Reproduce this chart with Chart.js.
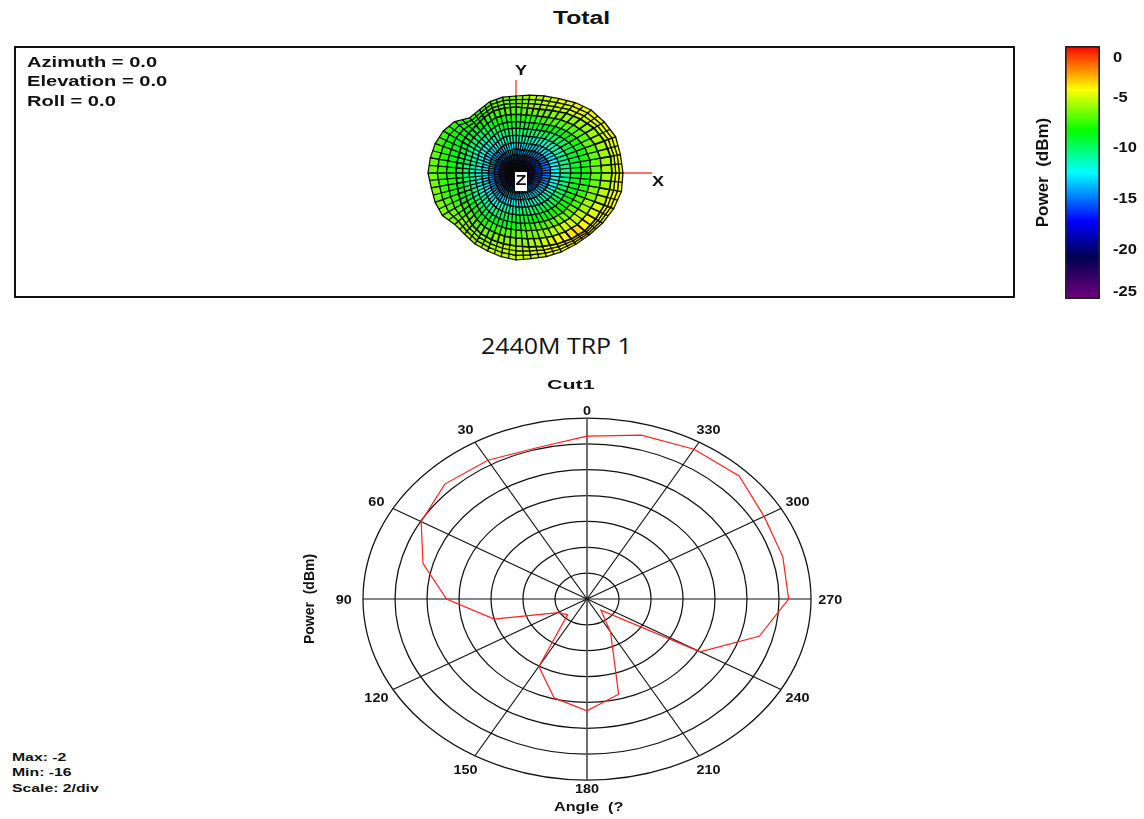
<!DOCTYPE html>
<html>
<head>
<meta charset="utf-8">
<title>2440M TRP 1</title>
<script src="https://cdn.jsdelivr.net/npm/chart.js@4"></script>
<style>
html, body { margin: 0; background: #fff; }
body { position: relative; width: 1144px; height: 819px; overflow: hidden; font-family: "Liberation Sans", sans-serif; color: #111; }
canvas { position: absolute; }
.txt { position: absolute; font-weight: bold; white-space: pre; transform-origin: left center; line-height: 1; }
</style>
</head>
<body>
<canvas id="surfaceChart" width="1001" height="252" style="left:14px;top:46px"></canvas>
<canvas id="colorbarChart" width="124" height="280" style="left:1020px;top:30px"></canvas>
<canvas id="polarChart" width="594" height="449" style="left:290px;top:370px"></canvas>

<div class="txt" style="left:553px;top:9px;font-size:18px;transform:scaleX(1.37)">Total</div>
<div class="txt" style="left:27px;top:54px;font-size:15px;transform:scaleX(1.34)">Azimuth = 0.0</div>
<div class="txt" style="left:27px;top:73px;font-size:15px;transform:scaleX(1.34)">Elevation = 0.0</div>
<div class="txt" style="left:27px;top:93px;font-size:15px;transform:scaleX(1.34)">Roll = 0.0</div>
<div class="txt" style="left:481px;top:335px;font-size:21.5px;font-weight:normal;font-family:'Open Sans';transform:scaleX(1.16)">2440M TRP 1</div>
<div class="txt" style="left:547px;top:378px;font-size:13px;transform:scaleX(1.65)">Cut1</div>
<div class="txt" style="left:554px;top:801px;font-size:12px;transform:scaleX(1.35)">Angle  (?</div>
<div class="txt" style="left:12px;top:752px;font-size:11.5px;transform:scaleX(1.37)">Max: -2</div>
<div class="txt" style="left:12px;top:767px;font-size:11.5px;transform:scaleX(1.37)">Min: -16</div>
<div class="txt" style="left:12px;top:783px;font-size:11.5px;transform:scaleX(1.37)">Scale: 2/div</div>

<script>
// polar cut, red trace (dBm per angle)
const cutAngles = [0, 15, 30, 45, 60, 75, 90, 105, 120, 135, 150, 165, 180, 195, 210, 225, 240, 255, 270, 285, 300, 315, 330, 345];
const cutPower = [-3.4, -3.89, -3.61, -3.43, -4.03, -5.39, -7.22, -9.99, -13.9, -14.29, -9.98, -8.08, -7.35, -8.37, -13.06, -14.77, -7.84, -4.86, -3.4, -3.33, -3.22, -2.55, -2.62, -2.88];
const cutMin = -16;
const cutMax = -2;
const cutRings = [-14, -12, -10, -8, -6, -4, -2];
const cutSpokes = [0, 30, 60, 90, 120, 150, 180, 210, 240, 270, 300, 330];

// colour bar
const barRange = [-25, 0];
const barTicks = [0, -5, -10, -15, -20, -25];
const barStops = [[0, '#ff0000'], [-4.3, '#ffff00'], [-8.4, '#00ff00'], [-12.5, '#00ffff'], [-17.3, '#0000ff'], [-20.9, '#000050'], [-25, '#700080']];

// 3D pattern seen from +Z: one entry per azimuth, every 10 deg counter-clockwise from +X
const frontRim = [96, 96, 94, 90, 84, 78, 72, 68, 66, 66, 66, 66, 64, 62, 62, 62, 60, 60, 60, 60, 61, 63, 65, 68, 70, 71, 72, 73, 75, 78, 82, 86, 90, 92, 94, 95];
const outerRim = [107, 106, 106, 102, 98, 92, 86, 82, 79, 77, 77, 76, 73, 72, 80, 84, 86, 87, 88, 86, 86, 85, 80, 80, 82, 83, 85, 87, 87, 89, 91, 93, 96, 100, 104, 107];
const ringFractions = [0, 0.07, 0.13, 0.19, 0.27, 0.36, 0.46, 0.57, 0.68, 0.78, 0.89, 1];
const rearFractions = [0.34, 0.67, 1];
const meshPower = [
  [-19, -18, -17, -16, -15, -12.5, -10.5, -9, -8, -6.8, -5.8, -5, -4.6, -4.6],
  [-19, -18, -17, -16, -15, -12.5, -10.5, -9, -8, -6.8, -5.8, -5, -4.7, -4.6],
  [-19, -18, -17, -16, -14.8, -12.8, -11, -9.5, -8, -6.8, -5.8, -5, -4.7, -4.5],
  [-19, -18, -17, -16, -14.6, -13, -11.2, -9.8, -8.2, -7, -5.9, -5, -4.8, -4.5],
  [-19, -18, -17, -16, -14.5, -13, -11.5, -10, -8.5, -7, -6, -5, -4.8, -4.6],
  [-19, -18, -17, -16, -14.5, -13, -11.5, -10, -8.6, -7.2, -6.2, -5.3, -5, -4.8],
  [-19, -18, -17, -15.8, -14.2, -13, -11.4, -10, -8.7, -7.5, -6.5, -5.6, -5.3, -5.2],
  [-19, -18, -16.5, -15.5, -14, -12.8, -11.2, -10, -8.8, -7.7, -6.8, -6, -5.8, -5.6],
  [-19, -18, -16.2, -15.2, -13.8, -12.6, -11, -10, -9, -8, -7, -6.5, -6.2, -6],
  [-19, -18, -16, -15, -13.5, -12.5, -11, -10, -9, -8, -7, -6.8, -6.6, -6.4],
  [-19, -18, -16, -15, -13.6, -12.6, -11.2, -10.2, -9.2, -8.2, -7.2, -7, -6.8, -6.6],
  [-19, -18, -16.2, -15.2, -14, -13, -11.8, -10.6, -9.6, -8.6, -7.6, -7.4, -7.2, -7],
  [-19, -18, -16.6, -15.6, -14.5, -13.5, -12.4, -11.2, -10.2, -9.4, -8.4, -8, -7.8, -7.5],
  [-19, -18, -17, -16, -15, -14, -13, -12, -11, -10, -9, -8.5, -8, -7.6],
  [-19, -18, -17, -16, -15, -14, -13, -12, -11, -10, -9, -8.6, -8, -7.6],
  [-19, -18, -17, -16, -15, -14, -13, -12, -11, -10, -9, -8.6, -8.2, -7.5],
  [-19, -18, -17, -16, -15, -14, -13, -12, -11, -10, -9, -8.4, -7.8, -7],
  [-19, -18, -17, -16, -15, -14, -13, -12, -11, -10, -9, -8.2, -7.6, -6.8],
  [-19, -18, -17, -16, -15, -14, -13, -12, -11, -10, -9, -8, -7.5, -6.5],
  [-19, -18, -17, -16, -15, -14, -13, -12, -11, -10, -8.8, -8, -7.4, -6.5],
  [-19, -18, -17, -16, -15, -14, -12.8, -11.8, -10.6, -9.4, -8.2, -7.5, -7, -6.4],
  [-19, -18, -17, -16, -15, -14, -12.6, -11.4, -10, -8.6, -7.6, -7, -6.6, -6.2],
  [-19, -18, -17, -16, -15, -14, -12.5, -11, -9.5, -8.2, -7, -6.4, -6.2, -6],
  [-19, -18, -17, -16, -14.8, -13.6, -12.2, -10.8, -9.4, -8, -6.9, -6.2, -6, -5.8],
  [-19, -18, -17, -15.8, -14.4, -13, -11.6, -10.2, -9, -7.6, -6.6, -6, -5.8, -5.6],
  [-19, -18, -16.8, -15.4, -14, -12.6, -11, -9.6, -8.4, -7.2, -6.3, -5.8, -5.6, -5.4],
  [-19, -18, -16.6, -15.2, -13.8, -12.2, -10.8, -9.2, -8.2, -7, -6.1, -5.6, -5.4, -5.3],
  [-19, -18, -16.5, -15, -13.5, -12, -10.5, -9, -8, -6.8, -6, -5.5, -5.3, -5.2],
  [-19, -18, -16.5, -15, -13.4, -11.8, -10.2, -8.8, -7.6, -6.4, -5.6, -5, -4.9, -5],
  [-19, -18, -16.5, -15, -13.3, -11.6, -10, -8.5, -7.2, -6, -5, -4.4, -4.4, -4.8],
  [-19, -18, -16.5, -15, -13.2, -11.4, -9.8, -8.3, -6.9, -5.5, -4.4, -3.9, -4.2, -4.6],
  [-19, -18, -16.5, -15, -13, -11, -9.5, -8, -6.5, -5, -3.8, -3.6, -4, -4.5],
  [-19, -18, -16.6, -15.2, -13.4, -11.4, -9.8, -8.2, -6.8, -5.3, -4.2, -3.9, -4.2, -4.5],
  [-19, -18, -16.8, -15.5, -14, -11.8, -10, -8.5, -7.2, -5.8, -4.8, -4.4, -4.4, -4.5],
  [-19, -18, -17, -15.8, -14.6, -12, -10.2, -8.8, -7.6, -6.4, -5.4, -4.8, -4.5, -4.5],
  [-19, -18, -17, -16, -15, -12.5, -10.5, -9, -8, -6.8, -5.8, -5, -4.6, -4.6]
];

const rad = d => d * Math.PI / 180;

function hexRgb(h) {
  return [parseInt(h.slice(1, 3), 16), parseInt(h.slice(3, 5), 16), parseInt(h.slice(5, 7), 16)];
}

function powerColor(v) {
  for (let i = 1; i < barStops.length; i++) {
    if (v >= barStops[i][0]) {
      const [v0, c0] = barStops[i - 1];
      const [v1, c1] = barStops[i];
      const t = (v - v0) / (v1 - v0);
      const a = hexRgb(c0), b = hexRgb(c1);
      return `rgb(${a.map((p, k) => Math.round(p + (b[k] - p) * t)).join(',')})`;
    }
  }
  return barStops[barStops.length - 1][1];
}

// text squeezed wider, the original export is stretched horizontally
function wideText(ctx, text, x, y, size, stretch) {
  ctx.save();
  ctx.translate(x, y);
  ctx.scale(stretch, 1);
  ctx.font = `bold ${size}px "Liberation Sans"`;
  ctx.fillStyle = '#111';
  ctx.textAlign = 'center';
  ctx.textBaseline = 'middle';
  ctx.fillText(text, 0, 0);
  ctx.restore();
}

// ---- top panel: 3D surface
const surfacePlugin = {
  id: 'surface',
  afterDraw(chart) {
    const { ctx, scales: { x, y } } = chart;
    const px = (r, az) => [x.getPixelForValue(r * Math.cos(rad(az))), y.getPixelForValue(r * Math.sin(rad(az)))];
    const n = frontRim.length;
    const boundary = (b, c) => {
      const col = c % n;
      if (b < ringFractions.length) return frontRim[col] * ringFractions[b];
      return frontRim[col] + (outerRim[col] - frontRim[col]) * rearFractions[b - ringFractions.length];
    };

    ctx.save();
    ctx.strokeStyle = '#111';
    ctx.lineWidth = 2;
    ctx.strokeRect(1, 1, chart.width - 2, chart.height - 2);

    // red axes stubs
    ctx.strokeStyle = '#ff4040';
    ctx.lineWidth = 1.4;
    ctx.beginPath();
    ctx.moveTo(...px(0, 0));
    ctx.lineTo(...px(136, 0));
    ctx.moveTo(...px(0, 0));
    ctx.lineTo(...px(93, 90));
    ctx.stroke();

    // rings painted from the rim inwards
    ctx.strokeStyle = '#0a0a0a';
    ctx.lineJoin = 'round';
    for (let row = meshPower[0].length - 1; row >= 0; row--) {
      ctx.lineWidth = row === ringFractions.length - 2 ? 1.7 : 1.25;
      for (let c = 0; c < n; c++) {
        const az0 = c * 10, az1 = az0 + 10;
        const r00 = boundary(row, c), r10 = boundary(row, c + 1);
        const r01 = boundary(row + 1, c), r11 = boundary(row + 1, c + 1);
        const p = [px(r00, az0), px(r01, az0), px(r11, az1), px(r10, az1)];
        ctx.beginPath();
        ctx.moveTo(...p[0]);
        p.slice(1).forEach(q => ctx.lineTo(...q));
        ctx.closePath();
        ctx.fillStyle = powerColor(meshPower[c][row]);
        ctx.fill();
        ctx.stroke();
        // mesh line through the middle of the cell
        ctx.beginPath();
        ctx.moveTo((p[0][0] + p[3][0]) / 2, (p[0][1] + p[3][1]) / 2);
        ctx.lineTo((p[1][0] + p[2][0]) / 2, (p[1][1] + p[2][1]) / 2);
        ctx.stroke();
      }
    }

    // axis letters
    const z = px(0, 0);
    ctx.fillStyle = '#fff';
    ctx.fillRect(z[0] - 1, z[1] - 1, 12, 19);
    wideText(ctx, 'Z', z[0] + 5, z[1] + 8, 15, 1.2);
    wideText(ctx, 'X', x.getPixelForValue(142), y.getPixelForValue(-9), 15, 1.2);
    wideText(ctx, 'Y', x.getPixelForValue(5), y.getPixelForValue(102), 15, 1.2);
    ctx.restore();
  }
};

new Chart(document.getElementById('surfaceChart'), {
  type: 'scatter',
  data: { datasets: [{ data: [], pointRadius: 0 }] },
  options: {
    responsive: false,
    animation: false,
    layout: { padding: 0 },
    plugins: { legend: { display: false }, tooltip: { enabled: false } },
    scales: {
      x: { display: false, min: -502, max: 499 },
      y: { display: false, min: -125, max: 127 }
    }
  },
  plugins: [surfacePlugin]
});

// ---- colour bar
const colorbarLabels = {
  id: 'colorbarLabels',
  afterDraw(chart) {
    const { ctx, scales: { y }, chartArea } = chart;
    barTicks.forEach(v => {
      const py = Math.min(Math.max(y.getPixelForValue(v), chartArea.top + 11), chartArea.bottom - 8) + 1;
      ctx.save();
      ctx.translate(93, py);
      ctx.scale(1.1, 1);
      ctx.font = 'bold 15px "Liberation Sans"';
      ctx.fillStyle = '#111';
      ctx.textBaseline = 'middle';
      ctx.fillText(String(v), 0, 0);
      ctx.restore();
    });
  }
};

new Chart(document.getElementById('colorbarChart'), {
  type: 'bar',
  data: {
    labels: ['Power'],
    datasets: [{
      data: [barRange],
      barPercentage: 1,
      categoryPercentage: 1,
      borderColor: '#222',
      borderWidth: 2,
      borderSkipped: false,
      backgroundColor(c) {
        const area = c.chart.chartArea;
        if (!area) return '#00ff00';
        const g = c.chart.ctx.createLinearGradient(0, area.top, 0, area.bottom);
        barStops.forEach(([v, col]) => g.addColorStop(v / barRange[0], col));
        return g;
      }
    }]
  },
  options: {
    responsive: false,
    animation: false,
    layout: { padding: { top: 16, bottom: 11, right: 44, left: 0 } },
    plugins: { legend: { display: false }, tooltip: { enabled: false } },
    scales: {
      x: { display: false },
      y: {
        min: barRange[0],
        max: barRange[1],
        grid: { display: false },
        border: { display: false },
        ticks: { display: false },
        title: {
          display: true,
          text: 'Power  (dBm)',
          color: '#111',
          font: { family: 'Liberation Sans', size: 17, weight: 'bold' },
          padding: { top: 13, bottom: 0 }
        },
        afterFit(s) { s.width = 45; }
      }
    }
  },
  plugins: [colorbarLabels]
});

// ---- polar cut, the plot is an ellipse so x and y get their own scale
const polarGrid = {
  id: 'polarGrid',
  beforeDatasetsDraw(chart) {
    const { ctx, scales: { x, y } } = chart;
    const cx = x.getPixelForValue(0), cy = y.getPixelForValue(0);
    const span = cutMax - cutMin;
    ctx.save();
    ctx.strokeStyle = '#111';
    ctx.lineWidth = 1.25;
    cutRings.forEach(level => {
      const r = level - cutMin;
      ctx.beginPath();
      ctx.ellipse(cx, cy, x.getPixelForValue(r) - cx, cy - y.getPixelForValue(r), 0, 0, Math.PI * 2);
      ctx.stroke();
    });
    cutSpokes.forEach(a => {
      ctx.beginPath();
      ctx.strokeStyle = a % 180 === 0 ? '#555' : '#111';
      ctx.lineWidth = a % 180 === 0 ? 1.7 : 1.2;
      ctx.moveTo(cx, cy);
      ctx.lineTo(x.getPixelForValue(-Math.sin(rad(a)) * span), y.getPixelForValue(Math.cos(rad(a)) * span));
      ctx.stroke();
    });
    ctx.restore();
  },
  afterDraw(chart) {
    const { ctx, scales: { x, y } } = chart;
    cutSpokes.forEach(a => {
      const r = a % 180 === 0 ? 14.6 : 15.2;
      wideText(ctx, String(a), x.getPixelForValue(-Math.sin(rad(a)) * r), y.getPixelForValue(Math.cos(rad(a)) * r) + 1.5, 12, 1.2);
    });
  }
};

const tracePoints = cutAngles.map((a, i) => ({
  x: -Math.sin(rad(a)) * (cutPower[i] - cutMin),
  y: Math.cos(rad(a)) * (cutPower[i] - cutMin)
}));
tracePoints.push(tracePoints[0]);

new Chart(document.getElementById('polarChart'), {
  type: 'scatter',
  data: {
    datasets: [{
      data: tracePoints,
      showLine: true,
      borderColor: '#ff2020',
      borderWidth: 1.2,
      pointRadius: 0,
      tension: 0
    }]
  },
  options: {
    responsive: false,
    animation: false,
    layout: { padding: { top: 48, right: 73, left: 0, bottom: 0 } },
    plugins: { legend: { display: false }, tooltip: { enabled: false } },
    scales: {
      x: {
        min: -14,
        max: 14,
        grid: { display: false },
        border: { display: false },
        ticks: { display: false },
        afterFit(s) { s.height = 39; }
      },
      y: {
        min: -14,
        max: 14,
        grid: { display: false },
        border: { display: false },
        ticks: { display: false },
        title: {
          display: true,
          text: 'Power  (dBm)',
          color: '#111',
          font: { family: 'Liberation Sans', size: 14, weight: 'bold' },
          padding: { top: 12, bottom: 0 }
        },
        afterFit(s) { s.width = 73; }
      }
    }
  },
  plugins: [polarGrid]
});
</script>
</body>
</html>
